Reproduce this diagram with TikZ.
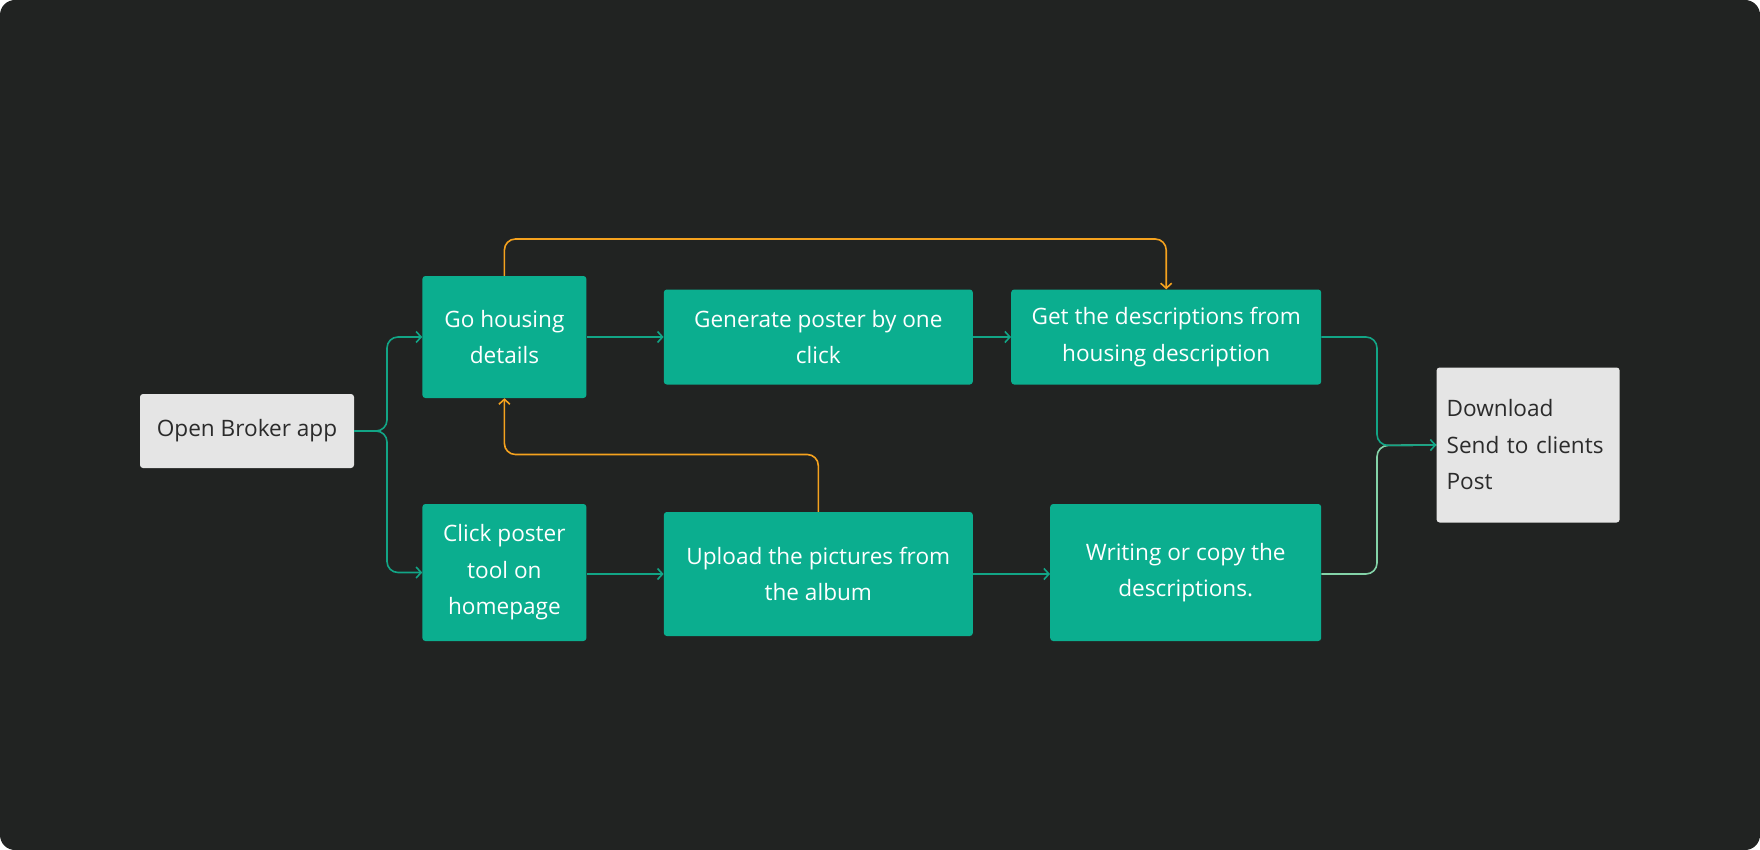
\documentclass[tikz,border=0pt]{standalone}
\usepackage{fontspec}
\setmainfont{Open Sans}
\usetikzlibrary{positioning,arrows.meta}

\definecolor{bgdark}{HTML}{212322}
\definecolor{boxgreen}{HTML}{0BAE8F}
\definecolor{linegreen}{HTML}{12A586}
\definecolor{palegreen}{HTML}{84D3A8}
\definecolor{backorange}{HTML}{F5A21E}
\definecolor{boxgrey}{HTML}{E5E5E5}
\definecolor{textgrey}{HTML}{2B2B2B}

\begin{document}
\begin{tikzpicture}[x=1pt,y=-1pt]
    \useasboundingbox (0,0) rectangle (1760,850);
    \fill[white] (0,0) rectangle (1760,850);
    \fill[bgdark, rounded corners=15pt] (0,0) rectangle (1760,850);
    \begin{scope}[
        mystep/.style={rectangle, rounded corners=3pt, fill=boxgreen, text=white, inner sep=0pt, align=center,
            font=\fontsize{22.6}{36.5}\selectfont},
        myend/.style={rectangle, rounded corners=3pt, fill=boxgrey, text=textgrey, inner sep=0pt,
            font=\fontsize{22.6}{36.5}\selectfont},
        myflow/.style={draw=linegreen, line width=1.6pt, rounded corners=11pt},
        myback/.style={draw=backorange, line width=1.6pt, rounded corners=11pt},
        myhead/.style={-{Straight Barb[length=5pt,width=11pt,line width=1.6pt]}}]
    \node [myend, minimum width=214pt, minimum height=74pt, align=center] (open) at (247,431) {Open Broker app};
    % upper branch
    \node [mystep, minimum width=164pt, minimum height=122pt] (house) [right=68pt of open, yshift=94pt] {Go housing\\details};
    \node [mystep, minimum width=309pt, minimum height=95pt] (poster) [right=77pt of house] {Generate poster by one\\click};
    \node [mystep, minimum width=310pt, minimum height=95pt] (fetch) [right=38pt of poster] {Get the descriptions from\\housing description};
    % lower branch
    \node [mystep, minimum width=164pt, minimum height=137pt] (tool) [right=68pt of open, yshift=-141.5pt] {Click poster\\tool on\\homepage};
    \node [mystep, minimum width=309pt, minimum height=124pt] (upload) [right=77pt of tool, yshift=-1.5pt] {Upload the pictures from\\the album};
    \node [mystep, minimum width=271pt, minimum height=137pt] (write) [right=77pt of upload, yshift=1.5pt] {Writing or copy the\\descriptions.};
    % result
    \node [myend, text width=163pt, minimum height=155pt, inner xsep=10pt, align=left] (share) [right=115pt of fetch, yshift=-108pt] {Download\\Send to clients\\Post};

    \coordinate (fork) at (387,431);
    \coordinate (join) at (1377,445.5);
    \coordinate (topway) at (800,239);
    \coordinate (backway) at (650,454.5);

    \draw [myflow, myhead] (open.east) -- (fork) |- (house.west);
    \draw [myflow, myhead] (open.east) -- (fork) |- (tool.west);
    \draw [myflow, myhead] (house) -- (poster);
    \draw [myflow, myhead] (poster) -- (fetch);
    \draw [myflow, myhead] (tool.east |- upload) -- (upload);
    \draw [myflow, myhead] (upload.east) -- (write.west |- upload.east);
    \draw [myflow, draw=palegreen] (write.east |- upload) -| (join) -- (share.west);
    \draw [myflow, myhead] (fetch.east) -| (join) -- (share.west);
    \draw [myback, myhead] (house.north) |- (topway) -| (fetch.north);
    \draw [myback, myhead] (upload.north) |- (backway) -| (house.south);
    \end{scope}
\end{tikzpicture}
\end{document}
